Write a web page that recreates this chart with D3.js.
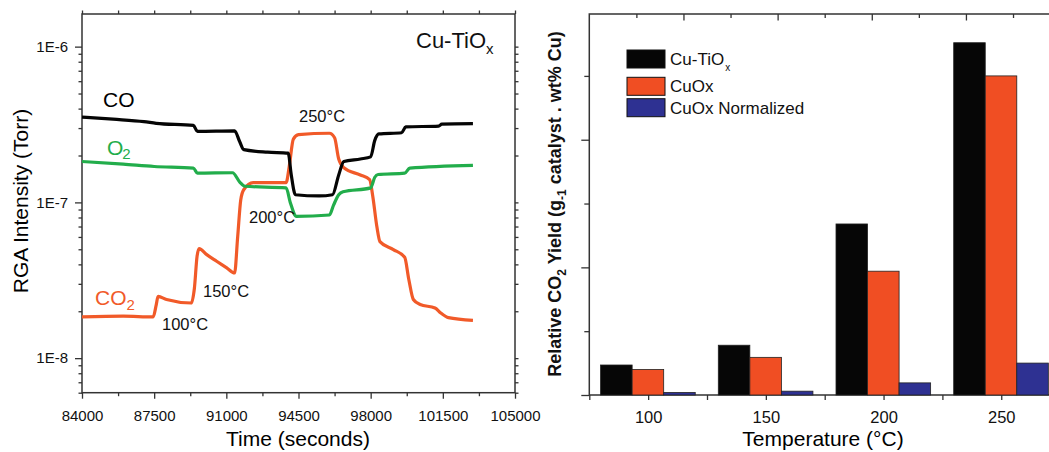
<!DOCTYPE html>
<html>
<head>
<meta charset="utf-8">
<title>Cu-TiOx RGA and CO2 yield</title>
<script src="https://cdn.jsdelivr.net/npm/d3@7"></script>
<style>
  body { margin: 0; background: #fff; }
  svg { font-family: "Liberation Sans", Arial, Helvetica, sans-serif; }
  .axis path { display: none; }
  .axis line { stroke: #333; stroke-width: 1.3; }
  .axis text { fill: #111; }
</style>
</head>
<body>
<svg id="chart" width="1049" height="452"></svg>
<script>

// RGA traces: [time (s), intensity (Torr)]
var coTrace = [[84000,3.53e-7],[85500,3.42e-7],[87000,3.30e-7],[87600,3.22e-7],[89400,3.12e-7],[89600,2.86e-7],
  [91400,2.88e-7],[91650,2.45e-7],[91850,2.18e-7],[93000,2.10e-7],[94000,2.07e-7],[94150,1.5e-7],[94350,1.12e-7],
  [95500,1.10e-7],[96150,1.12e-7],[96450,1.5e-7],[96700,1.83e-7],[97500,1.90e-7],[98000,1.96e-7],[98200,2.5e-7],
  [98400,2.75e-7],[99500,2.80e-7],[99700,3.05e-7],[101300,3.09e-7],[101450,3.18e-7],[102960,3.20e-7]];

var o2Trace = [[84000,1.83e-7],[86000,1.76e-7],[87500,1.70e-7],[89400,1.66e-7],[89600,1.54e-7],[91300,1.55e-7],
  [91650,1.35e-7],[91900,1.27e-7],[93900,1.24e-7],[94100,1.0e-7],[94400,8.13e-8],[96000,8.3e-8],[96200,9.6e-8],
  [96450,1.12e-7],[96660,1.17e-7],[98000,1.24e-7],[98200,1.45e-7],[98360,1.51e-7],[99650,1.54e-7],[99900,1.66e-7],
  [102960,1.73e-7]];

var co2Trace = [[84000,1.84e-8],[86000,1.86e-8],[87450,1.84e-8],[87600,2.2e-8],[87690,2.49e-8],[88100,2.38e-8],
  [89300,2.26e-8],[89450,2.8e-8],[89580,4.5e-8],[89680,5.05e-8],[90050,4.62e-8],[90530,4.19e-8],[91020,3.80e-8],
  [91400,3.52e-8],[91550,6e-8],[91700,1.04e-7],[91850,1.21e-7],[92300,1.34e-7],[93900,1.34e-7],[94050,1.7e-7],
  [94250,2.55e-7],[94500,2.72e-7],[96000,2.78e-7],[96250,2.6e-7],[96450,1.9e-7],[96700,1.67e-7],[97500,1.50e-7],
  [97950,1.40e-7],[98100,1.1e-7],[98300,7.0e-8],[98450,5.6e-8],[99100,4.98e-8],[99650,4.44e-8],[99850,3.2e-8],
  [100070,2.38e-8],[100400,2.21e-8],[101120,2.10e-8],[101400,1.95e-8],[101770,1.82e-8],[102960,1.75e-8]];

var timeTicks = [84000, 87500, 91000, 94500, 98000, 101500, 105000];
var rgaTicks = [1e-8, 1e-7, 1e-6];

// CO2 yield bars (relative units)
var temps = [100, 150, 200, 250];
var seriesNames = ["Cu-TiOx", "CuOx", "CuOx Normalized"];
var yieldCuTiOx = [0.47, 0.78, 2.68, 5.52];
var yieldCuOx = [0.40, 0.59, 1.94, 5.00];
var yieldCuOxNorm = [0.04, 0.06, 0.19, 0.50];
var yieldTicks = [0, 1, 2, 3, 4, 5];

var svg = d3.select("#chart");

// ---------- left panel: RGA traces ----------
var L = {left: 82, right: 515, top: 14, bottom: 392.7};

var x1 = d3.scaleLinear().domain([84000, 105000]).range([L.left, L.right]);
var y1 = d3.scaleLog().domain([6e-9, 1.62e-6]).range([L.bottom, L.top]);

var minorTime = d3.range(84000, 105001, 1750).filter(function(d) { return timeTicks.indexOf(d) < 0; });
var minorRga = y1.ticks().filter(function(d) { return rgaTicks.indexOf(d) < 0; });

var left = svg.append("g");

// minor ticks on all four sides
left.append("g").attr("class", "axis")
  .attr("transform", "translate(0," + L.bottom + ")")
  .call(d3.axisBottom(x1).tickValues(minorTime).tickSize(3.5).tickFormat(""));
left.append("g").attr("class", "axis")
  .attr("transform", "translate(0," + L.top + ")")
  .call(d3.axisTop(x1).tickValues(minorTime.concat(timeTicks)).tickSize(3.5).tickFormat(""));
left.append("g").attr("class", "axis")
  .attr("transform", "translate(" + L.left + ",0)")
  .call(d3.axisLeft(y1).tickValues(minorRga).tickSize(3.5).tickFormat(""));
left.append("g").attr("class", "axis")
  .attr("transform", "translate(" + L.right + ",0)")
  .call(d3.axisRight(y1).tickValues(minorRga.concat(rgaTicks)).tickSize(3.5).tickFormat(""));

// major ticks with labels
left.append("g").attr("class", "axis")
  .attr("transform", "translate(0," + L.bottom + ")")
  .call(d3.axisBottom(x1).tickValues(timeTicks).tickSize(6).tickPadding(12).tickFormat(d3.format("d")))
  .selectAll("text").style("font-size", "15px");
left.append("g").attr("class", "axis")
  .attr("transform", "translate(" + L.left + ",0)")
  .call(d3.axisLeft(y1).tickValues(rgaTicks).tickSize(7).tickPadding(7)
    .tickFormat(function(d) { return "1E" + Math.round(Math.log10(d)); }))
  .selectAll("text").style("font-size", "15px");

left.append("rect")
  .attr("x", L.left).attr("y", L.top)
  .attr("width", L.right - L.left).attr("height", L.bottom - L.top)
  .attr("fill", "none").attr("stroke", "#333").attr("stroke-width", 1.5);

var line = d3.line()
  .x(function(d) { return x1(d[0]); })
  .y(function(d) { return y1(d[1]); })
  .curve(d3.curveMonotoneX);

var traces = [
  {data: co2Trace, color: "#f15a29"},
  {data: o2Trace, color: "#22ad4b"},
  {data: coTrace, color: "#050505"}
];
left.selectAll("path.trace")
  .data(traces)
  .enter().append("path")
  .attr("class", "trace")
  .attr("d", function(d) { return line(d.data); })
  .attr("fill", "none")
  .attr("stroke", function(d) { return d.color; })
  .attr("stroke-width", 3.2)
  .attr("stroke-linejoin", "round");

// labels
left.append("text").attr("x", 298).attr("y", 446)
  .attr("text-anchor", "middle").style("font-size", "21px").text("Time (seconds)");
left.append("text")
  .attr("transform", "translate(28,201) rotate(-90)")
  .attr("text-anchor", "middle").style("font-size", "21px").text("RGA Intensity (Torr)");

var title = left.append("text").attr("x", 416).attr("y", 48).style("font-size", "22px").attr("fill", "#111");
title.append("tspan").text("Cu-TiO");
title.append("tspan").attr("dy", 6).style("font-size", "15px").text("x");

left.append("text").attr("x", 103).attr("y", 107).style("font-size", "21px").text("CO");
var o2 = left.append("text").attr("x", 107).attr("y", 155).style("font-size", "21px").attr("fill", "#22ad4b");
o2.append("tspan").text("O");
o2.append("tspan").attr("dy", 4).attr("dx", -1).style("font-size", "15px").text("2");
var co2 = left.append("text").attr("x", 95).attr("y", 305).style("font-size", "21px").attr("fill", "#f15a29");
co2.append("tspan").text("CO");
co2.append("tspan").attr("dy", 5).attr("dx", 0).style("font-size", "15px").text("2");

var tempLabels = [
  {t: "250°C", x: 299, y: 122},
  {t: "200°C", x: 249, y: 223},
  {t: "150°C", x: 203, y: 297},
  {t: "100°C", x: 162, y: 330}
];
left.selectAll("text.temp")
  .data(tempLabels)
  .enter().append("text")
  .attr("class", "temp")
  .attr("x", function(d) { return d.x; })
  .attr("y", function(d) { return d.y; })
  .style("font-size", "16.5px")
  .attr("fill", "#111")
  .text(function(d) { return d.t; });

// ---------- right panel: CO2 yield bars ----------
var R = {left: 589.3, right: 1049, top: 14, bottom: 395};

var x2 = d3.scaleLinear().domain([75, 270.2]).range([R.left, 1048.8]);
var y2 = d3.scaleLinear().domain([0, 5.97]).range([R.bottom, R.top]);

var right = svg.append("g");

right.append("g").attr("class", "axis")
  .attr("transform", "translate(0," + R.bottom + ")")
  .call(d3.axisBottom(x2).tickValues([75, 100, 125, 150, 175, 200, 225, 250]).tickSize(5).tickPadding(11)
    .tickFormat(function(d) { return temps.indexOf(d) >= 0 ? d : ""; }))
  .selectAll("text").style("font-size", "16.5px");

right.append("g").attr("class", "axis")
  .attr("transform", "translate(0," + R.top + ")")
  .call(d3.axisBottom(x2).tickValues([115, 155, 195, 235]).tickSize(6.5).tickFormat(""));
right.append("g").attr("class", "axis")
  .attr("transform", "translate(0," + R.top + ")")
  .call(d3.axisBottom(x2).tickValues([95, 135, 175, 215, 255]).tickSize(4).tickFormat(""));

right.append("g").attr("class", "axis")
  .attr("transform", "translate(" + R.left + ",0)")
  .call(d3.axisLeft(y2).tickValues(yieldTicks.filter(function(d) { return d % 2 === 0; })).tickSize(8).tickFormat(""));
right.append("g").attr("class", "axis")
  .attr("transform", "translate(" + R.left + ",0)")
  .call(d3.axisLeft(y2).tickValues(yieldTicks.filter(function(d) { return d % 2 === 1; })).tickSize(5).tickFormat(""));

right.append("path")
  .attr("d", "M" + R.right + "," + R.top + "H" + R.left + "V" + R.bottom + "H" + R.right)
  .attr("fill", "none").attr("stroke", "#333").attr("stroke-width", 1.5);

var barColors = ["#060606", "#f04e23", "#2e3192"];
var offsets = [-20.2, -6.8, 6.6];
var barW = 13.4;
var barSeries = [yieldCuTiOx, yieldCuOx, yieldCuOxNorm];

barSeries.forEach(function(vals, s) {
  right.selectAll("rect.s" + s)
    .data(vals)
    .enter().append("rect")
    .attr("class", "s" + s)
    .attr("x", function(d, i) { return x2(temps[i] + offsets[s]); })
    .attr("width", function(d, i) { return x2(temps[i] + offsets[s] + barW) - x2(temps[i] + offsets[s]); })
    .attr("y", function(d) { return y2(d); })
    .attr("height", function(d) { return y2(0) - y2(d); })
    .attr("fill", barColors[s])
    .attr("stroke", "#222")
    .attr("stroke-width", 0.8);
});

// legend
var legend = right.append("g").attr("transform", "translate(627,50)");
var lg = legend.selectAll("g")
  .data(seriesNames)
  .enter().append("g")
  .attr("transform", function(d, i) { return "translate(0," + [0, 27.3, 48.7][i] + ")"; });
lg.append("rect")
  .attr("width", 38).attr("height", 18)
  .attr("fill", function(d, i) { return barColors[i]; })
  .attr("stroke", "#111").attr("stroke-width", 1);
var lt = lg.append("text").attr("x", 43).attr("y", 15).style("font-size", "17px").attr("fill", "#111");
lt.each(function(d) {
  var t = d3.select(this);
  if (d === "Cu-TiOx") {
    t.append("tspan").text("Cu-TiO");
    t.append("tspan").attr("dy", 6).attr("dx", 1).style("font-size", "10px").text("x");
  } else {
    t.text(d);
  }
});

right.append("text").attr("x", 823).attr("y", 446)
  .attr("text-anchor", "middle").style("font-size", "21px").text("Temperature (°C)");

var ylab = right.append("text")
  .attr("transform", "translate(561,204) rotate(-90)")
  .attr("text-anchor", "middle")
  .style("font-size", "18px").style("font-weight", "bold").attr("fill", "#111");
ylab.append("tspan").text("Relative CO");
ylab.append("tspan").attr("dy", 5).style("font-size", "12px").text("2");
ylab.append("tspan").attr("dy", -5).text(" Yield (g");
ylab.append("tspan").attr("dy", 5).style("font-size", "12px").text("-1");
ylab.append("tspan").attr("dy", -5).text(" catalyst . wt% Cu)");

</script>
</body>
</html>
